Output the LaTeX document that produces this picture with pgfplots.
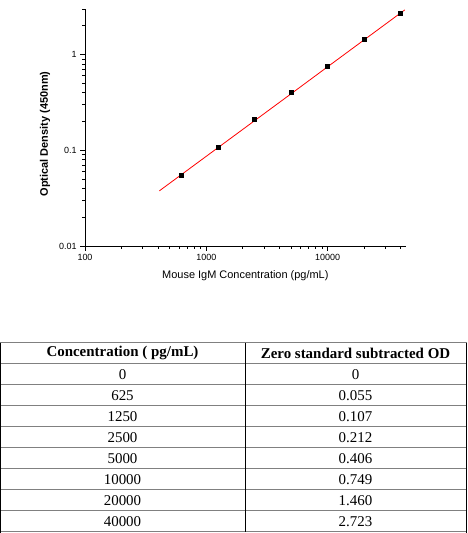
\documentclass[border=0pt]{standalone}
\usepackage{fontspec}
\setmainfont{Liberation Serif}
\newfontfamily\sansf{Liberation Sans}
\usepackage{pgfplots}
\pgfplotsset{compat=1.18}

\definecolor{rowline}{HTML}{808080}

\begin{document}
\begin{tikzpicture}
  \useasboundingbox (0,0) rectangle (468bp,533bp);
  \begin{axis}[
      at={(85bp,287bp)}, anchor=south west,
      scale only axis, width=320.7bp, height=237bp,
      xmode=log, ymode=log,
      xmin=100, xmax=44000, ymin=0.01, ymax=3,
      axis x line*=bottom, axis y line*=left,
      axis line style={black, line width=0.9bp},
      tick align=outside,
      major tick length=5bp, minor tick length=3bp,
      every tick/.style={black, line width=0.8bp},
      xtick={100,1000,10000}, xticklabels={100,1000,10000},
      ytick={0.01,0.1,1}, yticklabels={0.01,0.1,1},
      minor xtick={200,300,400,500,600,700,800,900,2000,3000,4000,5000,6000,7000,8000,9000,20000,30000,40000},
      minor ytick={0.02,0.03,0.04,0.05,0.06,0.07,0.08,0.09,0.2,0.3,0.4,0.5,0.6,0.7,0.8,0.9,2,3},
      /pgf/number format/assume math mode=true,
      ticklabel style={font=\sansf\fontsize{9}{10}\selectfont},
      xlabel={Mouse IgM Concentration (pg/mL)},
      ylabel={\bfseries Optical Density (450nm)},
      xlabel style={at={(axis description cs:0.5,-0.1266)}, anchor=center,
        font=\sansf\fontsize{11}{12}\selectfont},
      ylabel style={at={(axis description cs:-0.1247,0.4726)}, anchor=center,
        font=\sansf\fontsize{11}{13}\selectfont},
      clip=false,
    ]
    % fitted curve
    \addplot[red, line width=0.8bp, no marks] coordinates {
      (410,0.0377) (1000,0.0867) (5000,0.390) (10000,0.747) (43300,2.94)
    };
    % standards
    \addplot[only marks, mark=square*, mark size=2bp, black] coordinates {
      (625,0.055) (1250,0.107) (2500,0.212) (5000,0.406)
      (10000,0.749) (20000,1.460) (40000,2.723)
    };
  \end{axis}

  % table
  \foreach \k in {0,...,9} {
    \draw[rowline, line width=1.2bp] (0bp,190.3bp-21bp*\k) -- (467bp,190.3bp-21bp*\k);
  }
  \draw[black, line width=1bp] (0.5bp,190.3bp) -- (0.5bp,0bp);
  \draw[black, line width=1bp] (466.5bp,190.3bp) -- (466.5bp,0bp);
  \draw[black, line width=1bp] (245bp,190.3bp) -- (245bp,1.3bp);
  \node[font=\bfseries\fontsize{15}{17}\selectfont] at (122.5bp,179.8bp) {Concentration ( pg/mL)};
  \node[font=\bfseries\fontsize{15}{17}\selectfont] at (355.5bp,179.8bp) {Zero standard subtracted OD};
  \foreach \c/\o [count=\i] in {0/0,625/0.055,1250/0.107,2500/0.212,5000/0.406,10000/0.749,20000/1.460,40000/2.723} {
    \node[font=\fontsize{15}{17}\selectfont] at (122.5bp,179.8bp-21bp*\i) {\c};
    \node[font=\fontsize{15}{17}\selectfont] at (355.5bp,179.8bp-21bp*\i) {\o};
  }
\end{tikzpicture}
\end{document}
